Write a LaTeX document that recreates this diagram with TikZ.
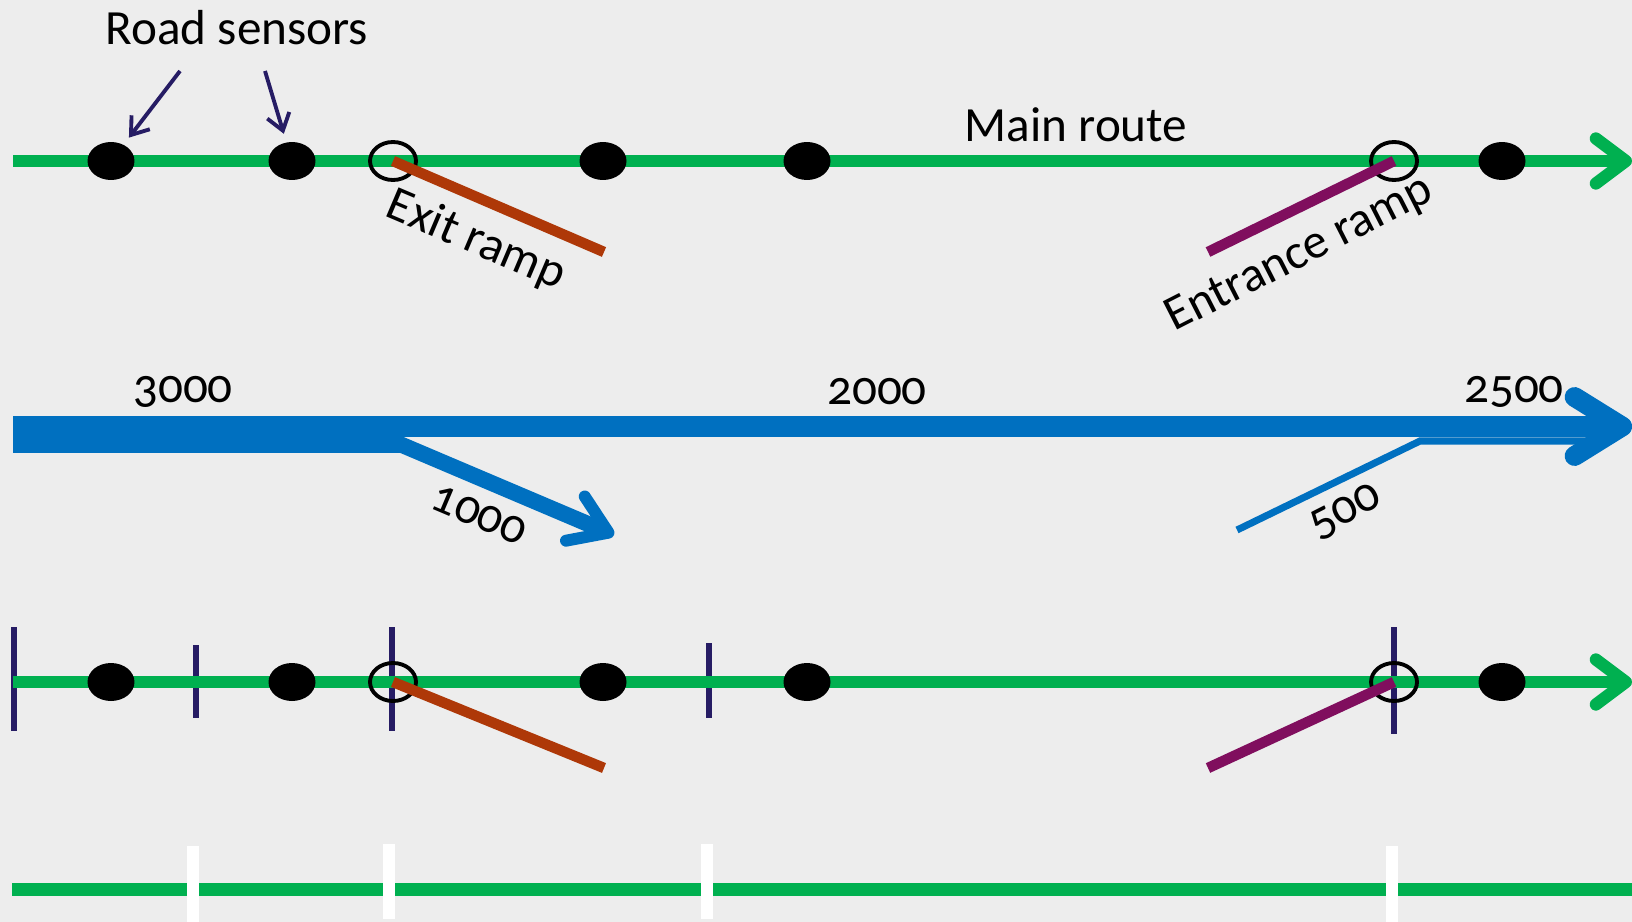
\documentclass[tikz,border=0pt]{standalone}
\usepackage{fontspec}
\setmainfont[Numbers=OldStyle]{Carlito}
\usepackage{tikz}
\usepackage{xcolor}
\usetikzlibrary{calc}
\usetikzlibrary{arrows.meta}
\usetikzlibrary{shapes.geometric}

\definecolor{route}{RGB}{0,176,80}
\definecolor{flowblue}{RGB}{0,112,192}
\definecolor{rampout}{RGB}{174,56,8}
\definecolor{rampin}{RGB}{128,14,94}
\definecolor{navy}{RGB}{38,28,100}
\definecolor{backdrop}{RGB}{237,237,237}

\begin{document}
\begin{tikzpicture}[x=0.02cm, y=-0.02cm]

\tikzset{
    sensor/.style = {
    ellipse, fill=black, inner sep=0pt,
    minimum width=0.94cm,
    minimum height=0.76cm
    }
}

\tikzstyle{junction}=[ellipse, draw=black, line width=2.2pt, inner sep=0pt, minimum width=0.92cm, minimum height=0.76cm]
\tikzstyle{road}=[draw=route, line width=7pt]
\tikzstyle{roadend}=[road, -{Straight Barb[length=0.6cm, width=0.9cm, round]}]
\tikzstyle{exitramp}=[draw=rampout, line width=6pt]
\tikzstyle{entryramp}=[draw=rampin, line width=6pt]
\tikzstyle{pointer}=[draw=navy, line width=2.2pt, -{Straight Barb[length=0.32cm, width=0.46cm]}]
\tikzstyle{label}=[font=\fontsize{28}{33}\selectfont, inner sep=0pt]
\tikzstyle{segment}=[draw=navy, line width=3.4pt]
\tikzstyle{gap}=[draw=white, line width=7pt]
\tikzstyle{flow}=[draw=flowblue]

\fill[backdrop] (0,0) rectangle (1632,922);
\useasboundingbox (0,0) rectangle (1632,922);

% main route with sensors
\coordinate (a-start) at (13,161);
\coordinate (a-end) at (1632,161);
\draw[roadend] (a-start) -- (a-end);

\node (s-1) [sensor] at (111,161) {};
\node (s-2) [sensor] at (292,161) {};
\node (s-3) [sensor] at (603,161) {};
\node (s-4) [sensor] at (807,161) {};
\node (s-5) [sensor] at (1502,161) {};

\node (j-1) [junction] at (393,161) {};
\node (j-2) [junction] at (1394,161) {};

\coordinate (out-1) at (604,252);
\coordinate (in-1) at (1208,252);
\draw[exitramp] (j-1.center) -- (out-1);
\draw[entryramp] (in-1) -- (j-2.center);

\node (sensors) [label] at (237,28) {Road sensors};
\node (main) [label] at (1076,125) {Main route};
\node (exitlbl) [label, rotate=-23] at (476,241) {Exit ramp};
\node (entrylbl) [label, rotate=27] at (1300,255) {Entrance ramp};

\coordinate (p-1) at (180,71);
\coordinate (p-2) at (265,71);
\draw[pointer, shorten >=5pt] (p-1) -- (s-1);
\draw[pointer, shorten >=5pt] (p-2) -- (s-2);

% traffic flows
\coordinate (b-start) at (13,426.5);
\coordinate (b-end) at (1632,426.5);
\coordinate (x-start) at (13,445);
\coordinate (x-split) at (402,445);
\coordinate (x-end) at (614,535);
\coordinate (e-start) at (1237,530);
\coordinate (e-merge) at (1420,441);
\coordinate (e-end) at (1590,441);

\draw[flow, line width=12pt, -{Straight Barb[length=0.95cm, width=1.18cm, line width=11.3pt, round]}] (b-start) -- (b-end);
\draw[flow, line width=9.1pt, -{Straight Barb[length=0.72cm, width=0.96cm, line width=6.8pt, round]}] (x-start) -- (x-split) -- (x-end);
\draw[flow, line width=4pt] (e-start) -- (e-merge) -- (e-end);

\node (n-3000) [label] at (183,392) {3000};
\node (n-2000) [label] at (877,392) {2000};
\node (n-2500) [label] at (1514,392) {2500};
\node (n-1000) [label, rotate=-23] at (479,515) {1000};
\node (n-500) [label, rotate=27] at (1346,512) {500};

% route split into segments
\draw[segment] (14,627) -- (14,731);
\draw[segment] (196,645) -- (196,718);
\draw[segment] (392,627) -- (392,731);
\draw[segment] (709,643) -- (709,718);
\draw[segment] (1394,627) -- (1394,734);

\coordinate (c-start) at (13,682);
\coordinate (c-end) at (1632,682);
\draw[roadend] (c-start) -- (c-end);

\node (t-1) [sensor] at (111,682) {};
\node (t-2) [sensor] at (292,682) {};
\node (t-3) [sensor] at (603,682) {};
\node (t-4) [sensor] at (807,682) {};
\node (t-5) [sensor] at (1502,682) {};

\node (k-1) [junction] at (393,682) {};
\node (k-2) [junction] at (1394,682) {};

\coordinate (out-2) at (604,768);
\coordinate (in-2) at (1208,768);
\draw[exitramp] (k-1.center) -- (out-2);
\draw[entryramp] (in-2) -- (k-2.center);

% segments only
\coordinate (d-start) at (12,889.5);
\coordinate (d-end) at (1632,889.5);
\draw[road] (d-start) -- (d-end);

\draw[gap] (193,846) -- (193,922);
\draw[gap] (389,844) -- (389,919);
\draw[gap] (707,844) -- (707,919);
\draw[gap] (1392,846) -- (1392,922);

\end{tikzpicture}
\end{document}
